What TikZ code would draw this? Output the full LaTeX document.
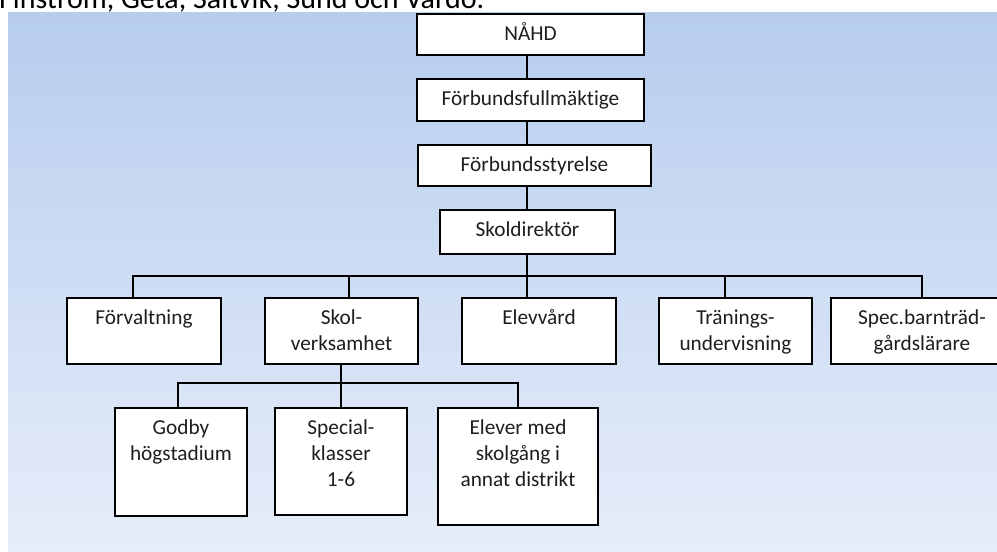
\documentclass[tikz,border=0pt]{standalone}
\usepackage{fontspec}
\setmainfont{Carlito}[Ligatures=NoCommon]
\definecolor{bgtop}{RGB}{183,205,238}
\definecolor{bgbot}{RGB}{230,237,249}
\definecolor{txt}{RGB}{30,30,30}
\newcommand{\orgbox}[6]{%
  \pgfmathsetmacro\obW{#4-#2}%
  \pgfmathsetmacro\obH{#5-#3}%
  \node[obox] (#1) at (#2,#3) {\parbox[c][\obH pt][t]{\obW pt}{\centering\rule{0pt}{26.5pt}#6}};}
\begin{document}
\begin{tikzpicture}[x=1pt,y=-1pt,
  obox/.style={draw=black, fill=white, line width=1.8pt, inner sep=0pt, outer sep=0pt,
    anchor=north west, font=\fontsize{21.3}{26}\selectfont, text=txt},
  conn/.style={draw=black, line width=1.8pt}]
\useasboundingbox (0,0) rectangle (997,552);
\clip (0,0) rectangle (997,552);
\shade[top color=bgtop, bottom color=bgbot] (8,12) rectangle (997,552);
\node[anchor=base west, inner sep=0pt, font=\fontsize{30}{36}\selectfont, text=black] (title) at (-1,8.5) {Finström, Geta, Saltvik, Sund och Vårdö.};
% connector guide coordinates
\coordinate (t527) at (527,0);
\coordinate (t133) at (133,0);
\coordinate (t349) at (349,0);
\coordinate (t725) at (725,0);
\coordinate (t922) at (922,0);
\coordinate (t341) at (341,0);
\coordinate (t178) at (178,0);
\coordinate (t518) at (518,0);
\coordinate (bar1) at (0,276);
\coordinate (bar2) at (0,383);
% boxes
\orgbox{nahd}{417}{14}{644}{55}{NÅHD}
\orgbox{ffm}{417}{79}{644}{121}{Förbundsfullmäktige}
\orgbox{fst}{418}{145}{651}{186}{Förbundsstyrelse}
\orgbox{sdir}{440}{210}{615}{254}{Skoldirektör}
\orgbox{forv}{67}{298}{221}{364}{Förvaltning}
\orgbox{skol}{265}{298}{418}{364}{Skol-\\verksamhet}
\orgbox{elev}{462}{298}{616}{364}{Elevvård}
\orgbox{tran}{659}{298}{812}{364}{Tränings-\\undervisning}
\orgbox{spec}{831}{298}{1013}{364}{Spec.barnträd-\\gårdslärare}
\orgbox{godby}{115}{408}{247}{516}{Godby\\högstadium}
\orgbox{spk}{275}{408}{407}{515}{Special-\\klasser\\1-6}
\orgbox{elm}{438}{408}{598}{525}{Elever med\\skolgång i\\annat distrikt}
% connectors
\draw[conn] (nahd.south -| t527) -- (ffm.north -| t527);
\draw[conn] (ffm.south -| t527) -- (fst.north -| t527);
\draw[conn] (fst.south -| t527) -- (sdir.north -| t527);
\draw[conn] (sdir.south -| t527) -- (elev.north -| t527);
\draw[conn] (forv.north -| t133) -- (bar1 -| t133) -- (bar1 -| t922) -- (spec.north -| t922);
\draw[conn] (bar1 -| t349) -- (skol.north -| t349);
\draw[conn] (bar1 -| t725) -- (tran.north -| t725);
\draw[conn] (skol.south -| t341) -- (spk.north -| t341);
\draw[conn] (godby.north -| t178) -- (bar2 -| t178) -- (bar2 -| t518) -- (elm.north -| t518);
\end{tikzpicture}
\end{document}
